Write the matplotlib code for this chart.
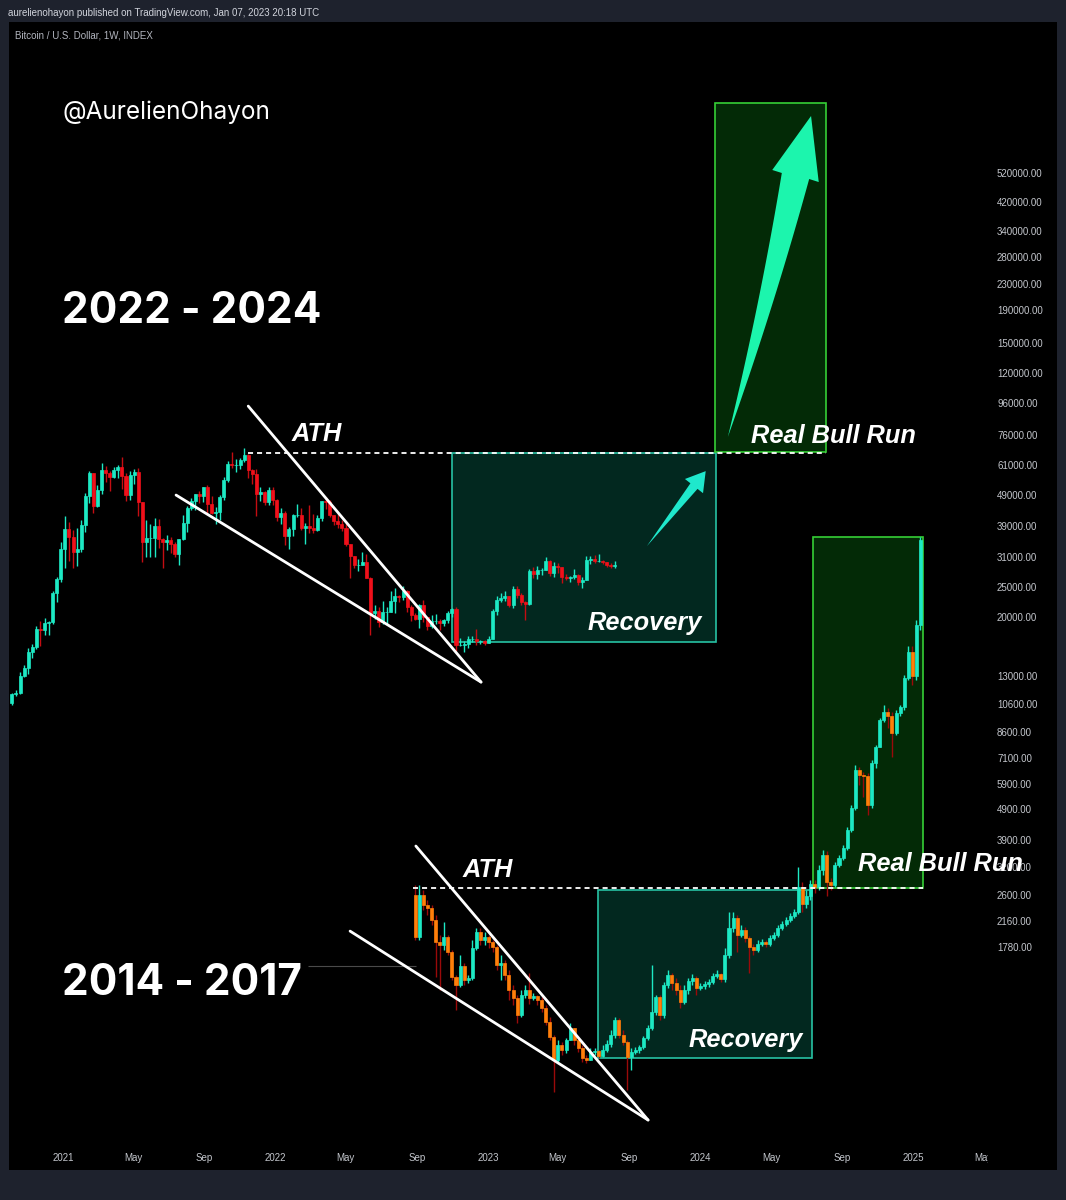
import numpy as np
import pandas as pd
import matplotlib
matplotlib.use("Agg")
import matplotlib.pyplot as plt
import matplotlib.dates as mdates
from matplotlib.patches import Rectangle, Polygon
from matplotlib.transforms import IdentityTransform
from matplotlib.ticker import FixedLocator, NullLocator, FuncFormatter

plt.rcParams['font.family'] = ['Liberation Sans', 'DejaVu Sans']

W, H = 1066, 1200

# BTC/USD hebdo 2020-2023
top_start = "2020-10-05"
top_open0 = 10670
top_close = [11380, 11500, 13030, 13800, 15480, 16060, 18400, 18180, 19170, 19270,
             23850, 26450, 33000, 38200, 36000, 32300, 33100, 39200, 48600, 57400,
             45200, 51000, 59000, 57500, 55800, 58800, 60000, 56200, 49100, 56600,
             58200, 46400, 34700, 35700, 35800, 39000, 35500, 34700, 35300, 34200,
             31800, 35400, 39900, 44600, 47000, 49300, 48800, 51800, 46000, 43000,
             43200, 48200, 54900, 61500, 61000, 61300, 63300, 65500, 59000, 57200,
             49400, 50100, 46700, 50800, 47300, 41800, 43100, 36300, 38200, 42200,
             42200, 38400, 39100, 38400, 37800, 41300, 46800, 46400, 42200, 40400,
             39500, 38500, 34100, 31300, 29400, 29400, 29900, 26600, 20600, 21000,
             19300, 20800, 20800, 22600, 23300, 23200, 24300, 21500, 20300, 19800,
             21800, 20000, 18800, 19400, 19400, 19200, 19600, 20600, 21300, 16300,
             16300, 16400, 17100, 17100, 16800, 16800, 16600, 17100, 20900, 22700,
             23000, 23300, 21800, 24600, 23500, 22400, 22100, 28000, 27500, 28200,
             28300, 30300, 27600, 29200, 28900, 26900, 26700, 26800, 27200, 25900,
             26300, 30500, 30600, 30300, 30300, 29900, 29300, 29100, 29400]
top_high = [11480, 11720, 13350, 14100, 15970, 16480, 18800, 19480, 19920, 19400,
            24300, 26800, 34800, 42000, 40100, 37800, 38600, 40900, 49700, 58400,
            57500, 52600, 61800, 60700, 58500, 60000, 61300, 64900, 57500, 58500,
            59500, 59600, 46600, 40800, 39500, 41300, 41000, 35700, 36500, 35900,
            34700, 35400, 42200, 45300, 48100, 49400, 50500, 52000, 52900, 48800,
            45000, 49200, 56100, 62900, 67000, 63700, 64300, 69000, 66300, 59500,
            59200, 51900, 50500, 52100, 52000, 47500, 44400, 43500, 38900, 42500,
            45800, 44700, 39900, 45400, 42600, 42300, 47000, 48200, 47400, 42400,
            42900, 40800, 40000, 34300, 31300, 30600, 32300, 31700, 26900, 21900,
            21500, 22500, 21600, 24300, 24700, 23600, 25200, 24500, 21900, 20600,
            22000, 22700, 20000, 20300, 20500, 19700, 19700, 21000, 21400, 21500,
            17200, 16800, 17400, 17400, 18400, 16950, 16900, 17400, 21300, 23300,
            23900, 24200, 23400, 25200, 25100, 23900, 22600, 28400, 28900, 29200,
            28800, 31000, 30500, 30000, 29800, 28900, 27500, 27000, 28400, 27400,
            26800, 31400, 31300, 31500, 31800, 30400, 30000, 29700, 30200]
top_low = [10530, 11200, 11410, 12900, 13200, 14840, 15800, 16200, 17600, 17600,
           19000, 22300, 25900, 28700, 30300, 28800, 29200, 32300, 37500, 46200,
           43000, 45000, 49300, 54000, 50400, 55500, 55400, 51300, 47000, 47100,
           53000, 42000, 30000, 31100, 31100, 31000, 33300, 28800, 32700, 32100,
           31000, 29300, 35300, 37300, 43800, 43900, 46300, 46500, 42800, 42800,
           39600, 40800, 47100, 53900, 59600, 58000, 59400, 62300, 55600, 53300,
           42000, 46800, 45500, 45600, 45700, 40600, 39700, 34000, 32900, 36300,
           41700, 38000, 34300, 37200, 37100, 37600, 40500, 44200, 41800, 39200,
           38500, 37600, 33700, 26700, 28700, 28000, 29300, 26600, 17600, 19800,
           18600, 19100, 18900, 20800, 20700, 22400, 22700, 20800, 19500, 19600,
           18500, 19300, 18200, 18500, 19000, 18200, 18700, 19200, 20000, 15600,
           16200, 15500, 16000, 16700, 16300, 16400, 16300, 16600, 17100, 20400,
           22300, 22600, 21500, 21400, 23100, 21900, 19600, 21900, 26600, 26500,
           27200, 28200, 27100, 26900, 27700, 25800, 26300, 25900, 26500, 25400,
           24800, 26200, 29500, 29700, 29900, 29600, 28900, 28600, 28700]

bot_start = "2022-08-29"
bot_open0 = 2607
bot_close = [1916, 2607, 2423, 2370, 2170, 1847, 1807, 1916, 1717, 1429,
             1347, 1549, 1398, 1419, 1768, 1988, 1874, 1916, 1847, 1781,
             1560, 1583, 1450, 1299, 1225, 1081, 1252, 1299, 1225, 1243,
             1207, 1138, 1027, 920, 777, 868, 836, 900, 983, 900,
             849, 789, 777, 824, 830, 800, 836, 874, 934, 1042,
             934, 887, 794, 824, 836, 855, 914, 983, 1105, 1234,
             1081, 1347, 1450, 1367, 1299, 1190, 1299, 1388, 1419, 1318,
             1337, 1357, 1378, 1439, 1461, 1408, 1679, 2047, 2202, 1944,
             2017, 1902, 1781, 1742, 1820, 1847, 1820, 1902, 1944, 2047,
             2108, 2170, 2235, 2301, 2766, 2441, 2588, 2826, 2766, 3131,
             3495, 2868, 2805, 3248, 3419, 3680, 4199, 4934, 6520, 6284,
             6238, 5043, 6864, 7719, 9410, 9970, 9690, 8550, 9900, 10350,
             12800, 15490, 12990, 18890, 35230]
bot_high = [2805, 2805, 2704, 2513, 2423, 2251, 1944, 2138, 1944, 1742,
            1450, 1679, 1583, 1450, 1874, 2047, 2047, 1988, 1944, 1874,
            1807, 1679, 1618, 1504, 1347, 1252, 1299, 1347, 1475, 1271,
            1252, 1234, 1163, 1065, 934, 900, 887, 914, 1019, 983,
            914, 868, 806, 849, 849, 836, 868, 900, 968, 1065,
            1057, 968, 900, 849, 855, 868, 927, 1005, 1560, 1252,
            1252, 1378, 1504, 1475, 1419, 1347, 1347, 1419, 1461, 1439,
            1367, 1388, 1408, 1475, 1504, 1475, 1768, 2301, 2301, 2251,
            2092, 2062, 1930, 1820, 1874, 1888, 1874, 1944, 1988, 2092,
            2154, 2218, 2284, 2352, 3201, 2868, 2704, 2910, 2910, 3248,
            3626, 3600, 2953, 3320, 3495, 3761, 4291, 5043, 6764, 6666,
            6426, 6379, 7017, 7833, 9550, 10500, 10270, 9970, 10120, 10500,
            13090, 16190, 16190, 19600, 36020]
bot_low = [1874, 1874, 2335, 2251, 2092, 1429, 1299, 1742, 1679, 1398,
           1121, 1327, 1347, 1367, 1398, 1742, 1807, 1807, 1768, 1717,
           1504, 1398, 1398, 1207, 1163, 1019, 1065, 1225, 1171, 1207,
           1163, 1105, 1005, 900, 615, 765, 806, 818, 900, 868,
           824, 765, 760, 777, 806, 789, 794, 824, 855, 914,
           914, 868, 624, 722, 812, 818, 842, 900, 968, 1081,
           1042, 1060, 1318, 1299, 1252, 1138, 1171, 1261, 1347, 1252,
           1299, 1308, 1327, 1357, 1419, 1378, 1378, 1643, 1988, 1717,
           1916, 1847, 1475, 1679, 1717, 1794, 1781, 1794, 1874, 1916,
           2017, 2077, 2138, 2202, 2268, 2301, 2370, 2513, 2646, 2704,
           3018, 2588, 2704, 2766, 3201, 3369, 3626, 4137, 4862, 5840,
           5350, 4687, 4934, 6617, 7719, 9270, 8870, 7170, 8430, 9690,
           10120, 12620, 12160, 12620, 18210]

price_ticks = [520000, 420000, 340000, 280000, 230000, 190000, 150000, 120000,
               96000, 76000, 61000, 49000, 39000, 31000, 25000, 20000, 13000,
               10600, 8600, 7100, 5900, 4900, 3900, 3200, 2600, 2160, 1780]
time_ticks = ["2021-01-01", "2021-05-01", "2021-09-01", "2022-01-01", "2022-05-01",
              "2022-09-01", "2023-01-01", "2023-05-01", "2023-09-01", "2024-01-01",
              "2024-05-01", "2024-09-01", "2025-01-01", "2025-05-01"]
time_labels = ["2021", "May", "Sep", "2022", "May", "Sep", "2023", "May", "Sep",
               "2024", "May", "Sep", "2025", "May"]

# niveaux et zones dessines par l'auteur
ath_top, ath_bot = 66700, 2744
rec_top = ("2022-10-31", "2024-01-28", 16670, 66700)
bull_top = ("2024-01-26", "2024-08-04", 67200, 869000)
rec_bot = ("2023-07-09", "2024-07-11", 788, 2704)
bull_bot = ("2024-07-12", "2025-01-18", 2744, 36020)


def d(s):
    return mdates.date2num(pd.Timestamp(s).to_pydatetime())


fig = plt.figure(figsize=(W / 100, H / 100), dpi=100, facecolor='#1e222d')
fig.add_artist(Rectangle((9 / W, 1 - 1170 / H), (1057 - 9) / W, (1170 - 22) / H,
                         transform=fig.transFigure, facecolor='black', edgecolor='none', zorder=0))
ax = fig.add_axes([9 / W, 1 - 1143 / H, (988 - 9) / W, (1143 - 22) / H])
ax.set_facecolor('black')
for s in ax.spines.values():
    s.set_visible(False)

ax.set_yscale('log')
ax.set_ylim(423, 1.574e6)
ax.set_xlim(d("2020-09-30"), d("2025-05-09"))


def candles(start, open0, close, high, low, up, down, wick_up, wick_down):
    c = np.array(close, float)
    o = np.r_[open0, c[:-1]]
    h = np.maximum(np.array(high, float), np.maximum(o, c))
    l = np.minimum(np.array(low, float), np.minimum(o, c))
    x = mdates.date2num(pd.date_range(start, periods=len(c), freq="7D").to_pydatetime())
    rising = c >= o
    body = np.where(rising, up, down)
    wick = np.where(rising, wick_up, wick_down)
    ax.vlines(x, l, h, colors=wick, linewidth=1, zorder=3)
    ax.bar(x, np.abs(c - o), bottom=np.minimum(o, c), width=5.2, color=body,
           edgecolor=body, linewidth=0.5, zorder=4)


def box(zone, face, edge):
    x0, x1, p0, p1 = zone
    ax.add_patch(Rectangle((d(x0), p0), d(x1) - d(x0), p1 - p0, facecolor=face,
                           edgecolor=edge, linewidth=1.2, zorder=1))


box(rec_top, '#02281f', '#27c2a4')
box(bull_top, '#032a06', '#35cf35')
box(rec_bot, '#02281f', '#27c2a4')
box(bull_bot, '#032a06', '#35cf35')

candles(top_start, top_open0, top_close, top_high, top_low,
        '#1de9c4', '#f0101a', '#1de9c4', '#c40d12')
candles(bot_start, bot_open0, bot_close, bot_high, bot_low,
        '#1de9c4', '#ff7f0a', '#1de9c4', '#9a0a0a')

# lignes ATH
ax.hlines(ath_top, d("2021-11-15"), d("2024-08-04"), colors='white',
          linestyles=(0, (2.8, 2.2)), linewidth=1.3, zorder=5)
ax.hlines(ath_bot, d("2022-08-25"), d("2025-01-18"), colors='white',
          linestyles=(0, (2.8, 2.2)), linewidth=1.3, zorder=5)
ax.hlines(1548, d("2022-02-26"), d("2022-08-30"), colors='#4a4a4a', linewidth=0.8, zorder=2)

# biseaux descendants
for (a, pa), (b, pb) in [(("2021-11-15", 94100), ("2022-12-20", 12430)),
                         (("2021-07-14", 49000), ("2022-12-20", 12430)),
                         (("2022-08-30", 3735), ("2023-10-03", 500.6)),
                         (("2022-05-09", 2001), ("2023-10-03", 500.6))]:
    ax.plot([d(a), d(b)], [pa, pb], color='white', linewidth=2, solid_capstyle='round', zorder=5)


def tapered_arrow(tail, tip, head_len, head_w, body_w, bend, color):
    p0 = ax.transData.transform((d(tail[0]), tail[1]))
    p2 = ax.transData.transform((d(tip[0]), tip[1]))
    v = p2 - p0
    u = v / np.hypot(*v)
    n = np.array([-u[1], u[0]])
    base = p2 - u * head_len
    ctrl = (p0 + base) / 2 + n * bend
    t = np.linspace(0, 1, 40)[:, None]
    curve = (1 - t) ** 2 * p0 + 2 * (1 - t) * t * ctrl + t ** 2 * base
    tan = 2 * (1 - t) * (ctrl - p0) + 2 * t * (base - ctrl)
    tan = tan / np.hypot(tan[:, :1], tan[:, 1:])
    nrm = np.hstack([-tan[:, 1:], tan[:, :1]])
    w = body_w / 2 * t
    left = curve + nrm * w
    right = curve - nrm * w
    hl = base + n * head_w / 2
    hr = base - n * head_w / 2
    pts = np.vstack([left, hl, p2, hr, right[::-1]])
    ax.add_patch(Polygon(pts, closed=True, transform=IdentityTransform(),
                         facecolor=color, edgecolor='none', zorder=6))


tapered_arrow(("2023-10-01", 33700), ("2024-01-10", 58400), 19, 23, 9, 0, '#1fe8cc')
tapered_arrow(("2024-02-17", 75000), ("2024-07-09", 790000), 62, 48, 28, -5, '#1cf5ad')

# axes
ax.yaxis.tick_right()
ax.yaxis.set_major_locator(FixedLocator(price_ticks))
ax.yaxis.set_major_formatter(FuncFormatter(lambda v, p: f"{v:.2f}"))
ax.yaxis.set_minor_locator(NullLocator())
ax.tick_params(axis='y', length=0, pad=6.5, labelsize=7, labelcolor='#c3c6cc')
ax.set_xticks([d(s) for s in time_ticks])
ax.set_xticklabels(time_labels)
ax.tick_params(axis='x', length=0, pad=7.5, labelsize=7, labelcolor='#c3c6cc')
clip = Rectangle((0, 0), 988 / W, 1, transform=fig.transFigure)
for lab in ax.get_xticklabels():
    lab.set_clip_path(clip)


def txt(px, py, s, **kw):
    fig.text(px / W, 1 - py / H, s, va='baseline', ha='left', zorder=10, **kw)


txt(8, 16, "aurelienohayon published on TradingView.com, Jan 07, 2023 20:18 UTC",
    fontsize=7, color='#d1d4dc')
txt(15, 39, "Bitcoin / U.S. Dollar, 1W, INDEX", fontsize=7, color='#b2b5be')
txt(62, 119, "@AurelienOhayon", fontsize=17.5, color='white', family=['Inter', 'DejaVu Sans'])
txt(62, 323, "2022 - 2024", fontsize=30.5, color='white', weight='bold', family=['Inter', 'DejaVu Sans'])
txt(62, 995, "2014 - 2017", fontsize=30.5, color='white', weight='bold', family=['Inter', 'DejaVu Sans'])
bi = dict(fontsize=18.3, color='white', weight='bold', style='italic')
txt(292, 441, "ATH", **bi)
txt(463, 877, "ATH", **bi)
txt(751, 443, "Real Bull Run", **bi)
txt(858, 871, "Real Bull Run", **bi)
txt(588, 630, "Recovery", **bi)
txt(689, 1047, "Recovery", **bi)

fig.savefig("out.png", dpi=100, facecolor=fig.get_facecolor())
